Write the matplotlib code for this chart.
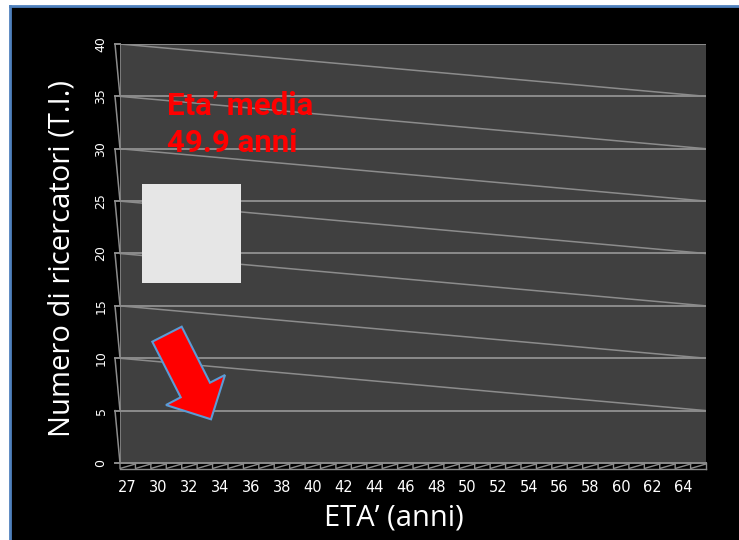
import matplotlib.pyplot as plt
import matplotlib.patches as mpatches
import matplotlib.transforms as mtransforms
import numpy as np

# categorie di eta' (una per barra), etichette ogni due
eta = [27] + list(range(29, 66))
etichette = [str(e) if i % 2 == 0 else "" for i, e in enumerate(eta)]
y_ticks = [0, 5, 10, 15, 20, 25, 30, 35, 40]

W, H = 739, 540
fig = plt.figure(figsize=(W / 100, H / 100), dpi=100)
fig.patch.set_facecolor("white")

# sfondo nero con bordo blu
fig.patches.append(mpatches.Rectangle((10 / W, 0), 1 - 10 / W, 1 - 6 / H,
                                      transform=fig.transFigure, facecolor="black",
                                      edgecolor="none", zorder=-5))
fig.lines.append(plt.Line2D([10 / W, 10 / W], [0, 1 - 6 / H], transform=fig.transFigure,
                            color="#4f81bd", lw=2, zorder=-4))
fig.lines.append(plt.Line2D([10 / W, 1], [1 - 6 / H, 1 - 6 / H], transform=fig.transFigure,
                            color="#4f81bd", lw=2, zorder=-4))

L, R, T, B = 120, 706, 44, 463
ax = fig.add_axes([L / W, 1 - B / H, (R - L) / W, (B - T) / H])
ax.set_facecolor("#404040")
n = len(eta)
ax.set_xlim(0, n)
ax.set_ylim(0, 40)

grid_col = "#8c8c8c"
for k in y_ticks[1:]:
    ax.plot([0, n], [k, k], color=grid_col, lw=1.4, zorder=1)
    if k >= 10:
        ax.plot([0, n], [k, k - 5], color=grid_col, lw=1.1, zorder=1)
    # parete sinistra
    ax.plot([-5 / 15.42, 0], [k, k - 5], color=grid_col, lw=1.1, clip_on=False)
    ax.plot([-5 / 15.42, 0], [k, k], color=grid_col, lw=1.4, clip_on=False)
ax.plot([0, 0], [0, 40], color=grid_col, lw=1.1, zorder=1)

# dente di sega sotto l'asse
tr = mtransforms.blended_transform_factory(ax.transData, ax.transAxes)
d = 5 / (B - T)
for i in range(n):
    ax.plot([i, i, i + 1], [0, -d * 1.1, -d * 0.2], color=grid_col, lw=1, transform=tr, clip_on=False)
ax.plot([0, n], [-d * 1.1, -d * 1.1], color=grid_col, lw=1, transform=tr, clip_on=False)
ax.plot([n, n], [0, -d * 1.1], color=grid_col, lw=1, transform=tr, clip_on=False)

for s in ax.spines.values():
    s.set_visible(False)
ax.spines["bottom"].set_visible(True)
ax.spines["bottom"].set_color(grid_col)
ax.spines["bottom"].set_bounds(-5 / 15.42, n)
ax.spines["bottom"].set_linewidth(1.4)

ax.set_yticks(y_ticks)
ax.set_yticklabels([str(v) for v in y_ticks], rotation=90, va="center", color="white", fontsize=9)
ax.tick_params(axis="y", length=0, pad=9)
ax.set_xticks(np.arange(n) + 0.5)
ax.set_xticklabels(etichette, color="white", fontsize=10.5)
ax.tick_params(axis="x", length=0, pad=12)

fig.text(62 / W, 1 - 258 / H, "Numero di ricercatori (T.I.)", rotation=90, color="white",
         fontsize=21, ha="center", va="center", family="Open Sans")
fig.text(394 / W, 1 - 518 / H, "ETA\u2019 (anni)", color="white", fontsize=21,
         ha="center", va="center", family="Open Sans")

fig.text(167 / W, 1 - 106 / H, "Eta\u2019 media", color="#ff0000", fontsize=22.5, weight="bold",
         ha="left", va="center", family="Roboto")
fig.text(167 / W, 1 - 143 / H, "49.9 anni", color="#ff0000", fontsize=22.5, weight="bold",
         ha="left", va="center", family="Roboto")

# riquadro grigio
fig.patches.append(mpatches.Rectangle((142 / W, 1 - 283 / H), 99 / W, 99 / H,
                                      transform=fig.transFigure, facecolor="#e6e6e6",
                                      edgecolor="none", zorder=3))
# freccia rossa
pts = [(152.3, 341.7), (181.7, 326.7), (210, 382.7), (225, 375), (211, 419.3),
       (166, 405), (180.7, 397.3)]
fig.patches.append(mpatches.Polygon([(x / W, 1 - y / H) for x, y in pts], closed=True,
                                    transform=fig.transFigure, facecolor="#ff0000",
                                    edgecolor="#5b9bd5", lw=1.5, zorder=3))

fig.savefig("out.png", dpi=100, facecolor=fig.get_facecolor())
